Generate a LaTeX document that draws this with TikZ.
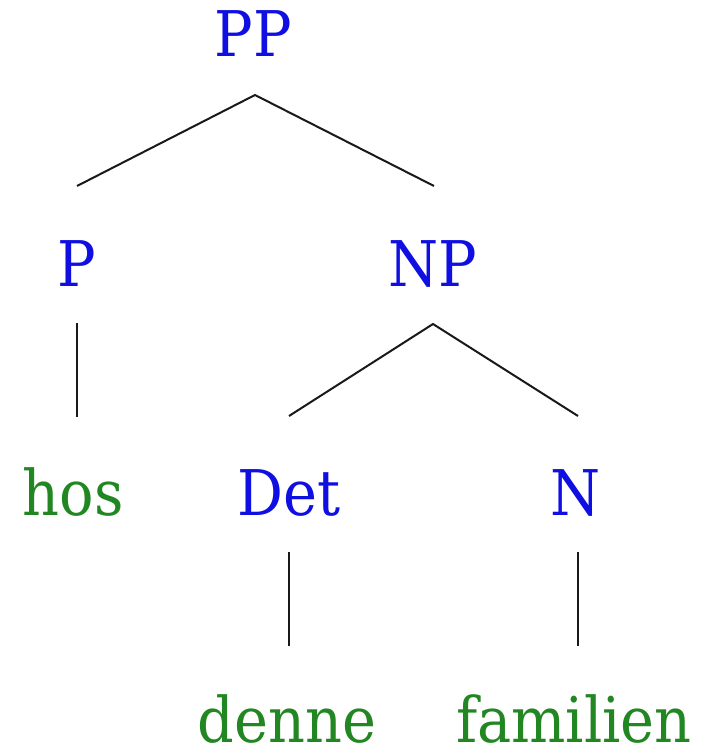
\documentclass[tikz,border=0pt]{standalone}
\usepackage{fontspec}
\setmainfont{DejaVu Serif}[FakeStretch=0.91]
\definecolor{catblue}{RGB}{15,15,225}
\definecolor{wordgreen}{RGB}{34,135,34}
\begin{document}
\begin{tikzpicture}[x=1pt,y=-1pt,
  lbl/.style={anchor=base,inner sep=0pt,text depth=0pt,font=\fontsize{63}{70}\selectfont},
  cat/.style={lbl,text=catblue},
  word/.style={lbl,text=wordgreen},
  branch/.style={draw=black!90,line width=2pt}]
\useasboundingbox (0,0) rectangle (714,751);
% labels
\node[cat] (PP) at (253,57) {PP};
\node[cat] (P) at (77,286) {P};
\node[cat] (NP) at (433,286) {NP};
\node[word] (hos) at (73,515) {hos};
\node[cat] (Det) at (289,515) {Det};
\node[cat] (N) at (576,515) {N};
\node[word] (denne) at (287,742) {denne};
\node[word] (familien) at (574,742) {familien};
% branch end points
\coordinate (PPb) at (255,95);
\coordinate (Pt) at (77,186);
\coordinate (NPt) at (434,186);
\coordinate (Pb) at (77,323);
\coordinate (host) at (77,417);
\coordinate (NPb) at (433,324);
\coordinate (Dett) at (289,416);
\coordinate (Nt) at (578,416);
\coordinate (Detb) at (289,552);
\coordinate (dennet) at (289,646);
\coordinate (Nb) at (578,552);
\coordinate (familient) at (578,646);
% branches
\draw[branch] (Pt) -- (PPb) -- (NPt);
\draw[branch] (Pb) -- (host);
\draw[branch] (Dett) -- (NPb) -- (Nt);
\draw[branch] (Detb) -- (dennet);
\draw[branch] (Nb) -- (familient);
\end{tikzpicture}
\end{document}
